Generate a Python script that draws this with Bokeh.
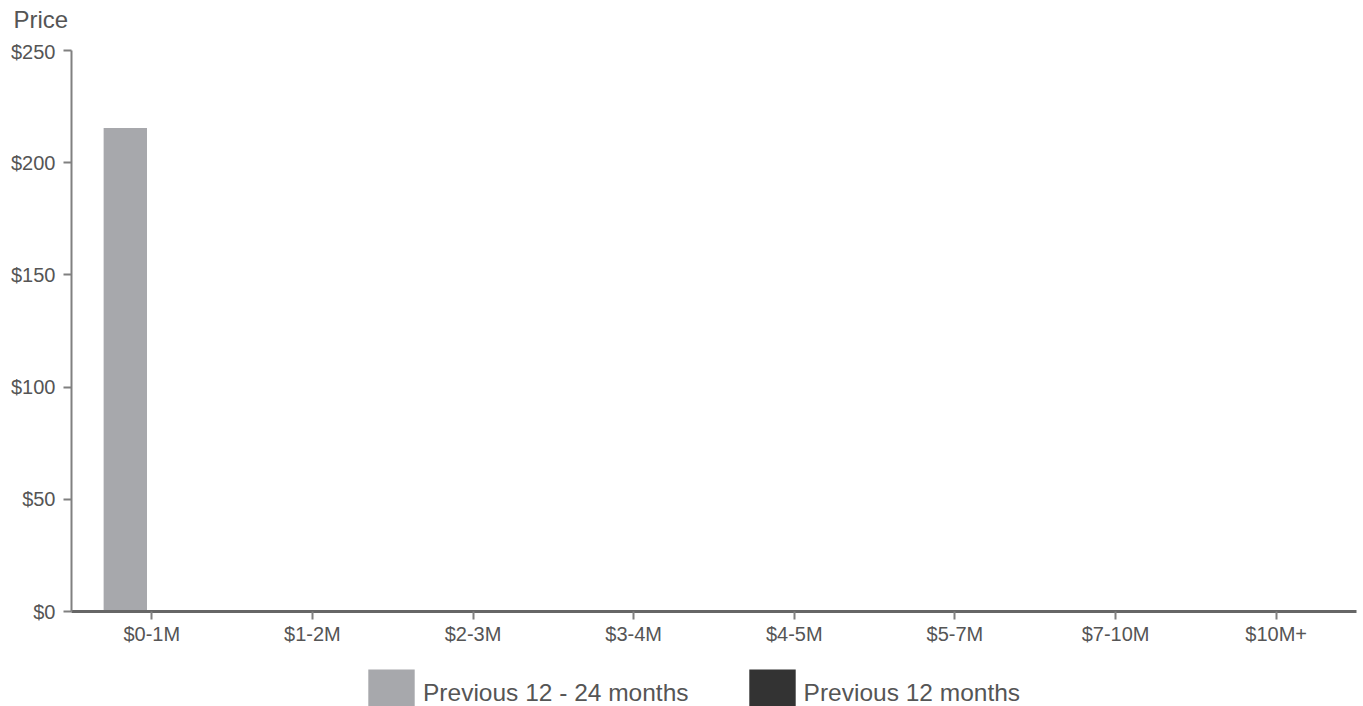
from bokeh.plotting import figure
from bokeh.layouts import column
from bokeh.models import (FactorRange, Range1d, Legend, LegendItem,
                          NumeralTickFormatter, FixedTicker, ColumnDataSource)
from bokeh.transform import dodge
from bokeh.embed import file_html
from bokeh.resources import INLINE

categories = ["$0-1M", "$1-2M", "$2-3M", "$3-4M", "$4-5M", "$5-7M", "$7-10M", "$10M+"]
prev_12_24 = [215.5, 0, 0, 0, 0, 0, 0, 0]
prev_12 = [0, 0, 0, 0, 0, 0, 0, 0]
series_names = ["Previous 12 - 24 months", "Previous 12 months"]
y_ticks = [0, 50, 100, 150, 200, 250]
y_title = "Price"

FONT = "Liberation Sans"
TEXT = "#555555"
C1 = "#A7A8AC"
C2 = "#333333"

src = ColumnDataSource(dict(cat=categories, a=prev_12_24, b=prev_12))

# --- top strip carrying the "Price" title ---
p0 = figure(x_range=Range1d(0, 1), y_range=Range1d(0, 1),
            width=1363, height=40, output_backend="svg", toolbar_location=None,
            min_border_left=71, min_border_right=7, min_border_top=32, min_border_bottom=0,
            x_axis_location=None, y_axis_location=None)
p0.outline_line_color = None
p0.grid.visible = False
p0.title.text = y_title
p0.title.align = "left"
p0.title.vertical_align = "bottom"
p0.title.offset = -58
p0.title.standoff = 0
p0.title.text_font = FONT
p0.title.text_font_size = "24px"
p0.title.text_font_style = "normal"
p0.title.text_color = TEXT

# --- main chart ---
p = figure(x_range=FactorRange(factors=categories, range_padding=0),
           y_range=Range1d(0, 250),
           width=1363, height=620, output_backend="svg", toolbar_location=None,
           min_border_left=71, min_border_right=7, min_border_top=10, min_border_bottom=49)

p.vbar(x=dodge("cat", -0.165, range=p.x_range), top="a", width=0.27, source=src,
       fill_color=C1, line_color=None)
p.vbar(x=dodge("cat", 0.165, range=p.x_range), top="b", width=0.27, source=src,
       fill_color=C2, line_color=None)

p.outline_line_color = None
p.xgrid.visible = False
p.ygrid.visible = False

# y axis
p.yaxis.ticker = FixedTicker(ticks=y_ticks)
p.yaxis.formatter = NumeralTickFormatter(format="$0")
p.yaxis.axis_line_color = "#808080"
p.yaxis.axis_line_width = 2
p.yaxis.major_tick_line_color = "#808080"
p.yaxis.major_tick_line_width = 2
p.yaxis.major_tick_out = 8
p.yaxis.major_tick_in = 0
p.yaxis.minor_tick_line_color = None
p.yaxis.major_label_standoff = 8
p.yaxis.major_label_text_font = FONT
p.yaxis.major_label_text_font_size = "20px"
p.yaxis.major_label_text_color = TEXT

# x axis
p.xaxis.axis_line_color = "#666666"
p.xaxis.axis_line_width = 3
p.xaxis.major_tick_line_color = "#808080"
p.xaxis.major_tick_line_width = 2
p.xaxis.major_tick_out = 8
p.xaxis.major_tick_in = 0
p.xaxis.major_label_standoff = 3
p.xaxis.major_label_text_font = FONT
p.xaxis.major_label_text_font_size = "20px"
p.xaxis.major_label_text_color = TEXT

# --- legend strip below the chart ---
p2 = figure(x_range=FactorRange(factors=categories, range_padding=0),
            y_range=Range1d(1000, 1001),
            width=1363, height=46, output_backend="svg", toolbar_location=None,
            min_border_left=71, min_border_right=7, min_border_top=0, min_border_bottom=0,
            x_axis_location=None, y_axis_location=None)
p2.outline_line_color = None
p2.grid.visible = False
l1 = p2.vbar(x=dodge("cat", -0.165, range=p2.x_range), top="a", width=0.27, source=src,
             fill_color=C1, line_color=None)
l2 = p2.vbar(x=dodge("cat", 0.165, range=p2.x_range), top="b", width=0.27, source=src,
             fill_color=C2, line_color=None)

legend = Legend(items=[LegendItem(label=series_names[0], renderers=[l1]),
                       LegendItem(label=series_names[1], renderers=[l2])],
                location=(291, -17), orientation="horizontal",
                glyph_width=58, glyph_height=60, label_height=60,
                label_standoff=3, spacing=54, padding=0, margin=0,
                border_line_color=None, background_fill_alpha=0,
                label_text_font=FONT, label_text_font_size="24.5px",
                label_text_color=TEXT)
p2.add_layout(legend)

layout = column(p0, p, p2, spacing=0)
open("out.html", "w").write(file_html(layout, INLINE))
